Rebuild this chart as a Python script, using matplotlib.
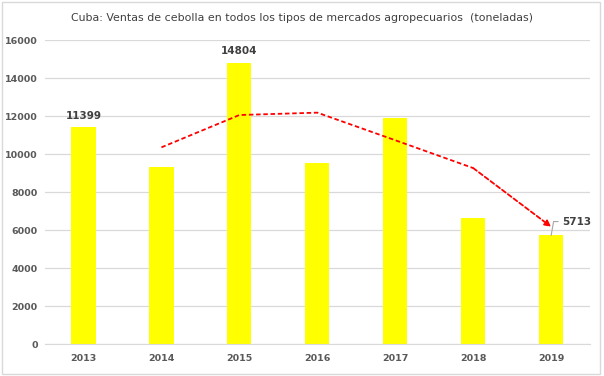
import matplotlib.pyplot as plt
from matplotlib.patches import Rectangle

years = ['2013', '2014', '2015', '2016', '2017', '2018', '2019']
ventas = [11399, 9300, 14804, 9550, 11900, 6620, 5713]
# media movil de 2 periodos (linea roja)
media_movil = [None, 10350, 12052, 12177, 10725, 9260, 6170]
label_idx = [0, 2, 6]

GRAY = '#595959'

fig = plt.figure(figsize=(6.04, 3.76), dpi=100)
ax = fig.add_axes([0.0737, 0.0851, 0.9033, 0.8085])

x = list(range(len(years)))
ax.bar(x, ventas, width=0.31, color='#FFFF00', zorder=2)

mx = [i for i, v in zip(x, media_movil) if v is not None]
my = [v for v in media_movil if v is not None]
ax.plot(mx[:-1], my[:-1], color='#FF0000', linestyle=(0, (2.5, 1.5)), linewidth=1.3, zorder=3)
ax.annotate('', xy=(mx[-1], my[-1]), xytext=(mx[-2], my[-2]),
            arrowprops=dict(arrowstyle='-|>', color='#FF0000', linestyle=(0, (2.5, 1.5)),
                            linewidth=1.3, mutation_scale=9, shrinkA=0, shrinkB=0), zorder=3)

for i in label_idx:
    if i == len(years) - 1:
        ax.annotate(str(ventas[i]), xy=(i, ventas[i]), xytext=(8, 10), textcoords='offset points',
                    fontsize=7.5, fontweight='bold', color='#404040', va='center', ha='left',
                    arrowprops=dict(arrowstyle='-', color='#A6A6A6', linewidth=0.8,
                                    connectionstyle='angle,angleA=0,angleB=80', shrinkA=1, shrinkB=0))
    else:
        ax.text(i, ventas[i] + 350, str(ventas[i]), ha='center', va='bottom',
                fontsize=7.5, fontweight='bold', color='#404040')

ax.set_xlim(-0.5, len(years) - 0.5)
ax.set_ylim(0, 16000)
ax.set_yticks(range(0, 16001, 2000))
ax.set_xticks(x)
ax.set_xticklabels(years)
ax.grid(axis='y', color='#D9D9D9', linewidth=0.9, zorder=0)
ax.set_axisbelow(True)
for s in ['top', 'right', 'left']:
    ax.spines[s].set_visible(False)
ax.spines['bottom'].set_color('#D9D9D9')
ax.tick_params(length=0, labelsize=6.8, colors=GRAY)
ax.tick_params(axis='x', pad=7)
ax.tick_params(axis='y', pad=5)
for lab in ax.get_xticklabels() + ax.get_yticklabels():
    lab.set_fontweight('bold')

fig.text(0.5, 0.952, 'Cuba: Ventas de cebolla en todos los tipos de mercados agropecuarios  (toneladas)',
         ha='center', va='center', fontsize=7.9, color='#404040')

fig.patches.append(Rectangle((0.004, 0.006), 0.99, 0.988, transform=fig.transFigure,
                             fill=False, edgecolor='#D9D9D9', linewidth=1))

fig.savefig('out.png', dpi=100)
